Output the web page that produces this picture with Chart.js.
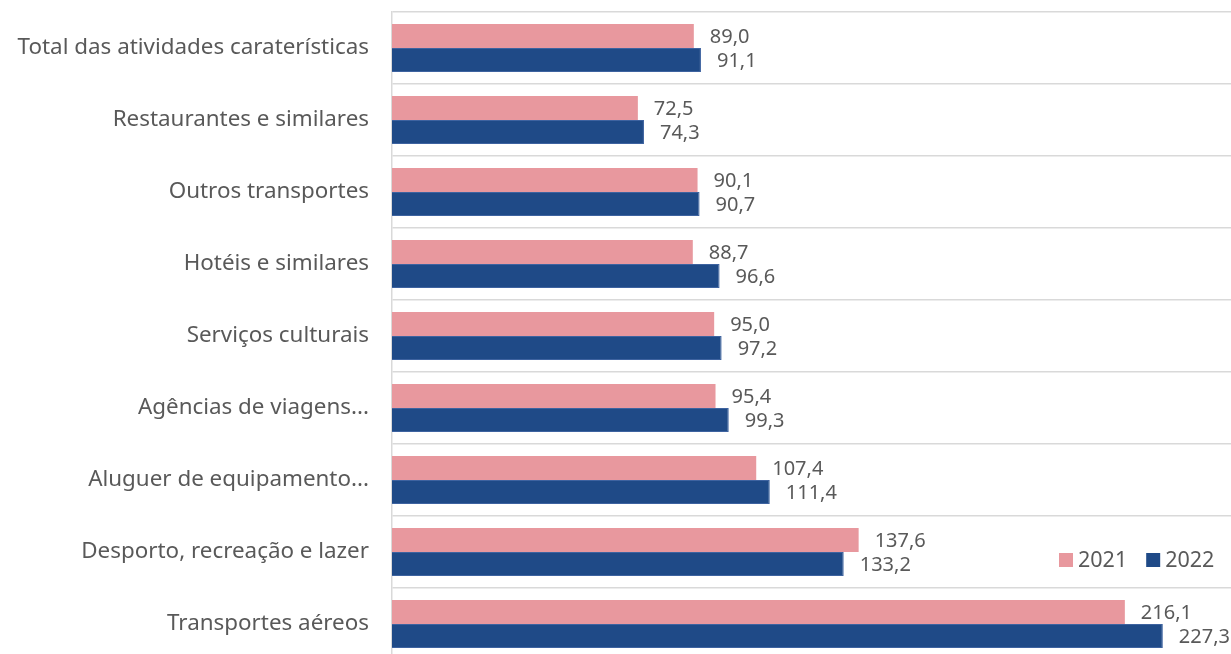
<!DOCTYPE html>
<html>
<head>
<meta charset="utf-8">
<script src="https://cdn.jsdelivr.net/npm/chart.js@4.4.1/dist/chart.umd.min.js"></script>
<style>
  html, body { margin: 0; padding: 0; background: #fff; overflow: hidden; }
  #wrap { width: 1231px; height: 654px; overflow: hidden; position: relative; }
  #box { width: 1231px; height: 660px; position: absolute; left: 0; top: 0; }
</style>
</head>
<body>
<div id="wrap"><div id="box"><canvas id="chart"></canvas></div></div>
<script>
const categories = [
    'Total das atividades caraterísticas',
    'Restaurantes e similares',
    'Outros transportes',
    'Hotéis e similares',
    'Serviços culturais',
    'Agências de viagens...',
    'Aluguer de equipamento...',
    'Desporto, recreação e lazer',
    'Transportes aéreos'
];
const values2021 = [89.0, 72.5, 90.1, 88.7, 95.0, 95.4, 107.4, 137.6, 216.1];
const values2022 = [91.1, 74.3, 90.7, 96.6, 97.2, 99.3, 111.4, 133.2, 227.3];
const seriesNames = ['2021', '2022'];

const pink = '#E8989E';
const blue = '#1F4A87';
const textColor = '#595959';
const fontFamily = '"Noto Sans", "Open Sans", sans-serif';

function fmt(v) {
    return v.toFixed(1).replace('.', ',');
}

// etiquetas de valor a la derecha de cada barra
const valueLabels = {
    id: 'valueLabels',
    afterDatasetsDraw(chart) {
        const ctx = chart.ctx;
        ctx.save();
        ctx.font = '20px ' + fontFamily;
        ctx.fillStyle = textColor;
        ctx.textAlign = 'left';
        ctx.textBaseline = 'middle';
        chart.data.datasets.forEach((ds, i) => {
            chart.getDatasetMeta(i).data.forEach((bar, j) => {
                ctx.fillText(fmt(ds.data[j]), bar.x + 16, bar.y + 1);
            });
        });
        ctx.restore();
    }
};

// leyenda dentro del área del gráfico
const innerLegend = {
    id: 'innerLegend',
    afterDraw(chart) {
        const ctx = chart.ctx;
        ctx.save();
        ctx.font = '21.5px ' + fontFamily;
        ctx.textBaseline = 'middle';
        let x = 1059;
        const y = 560;
        chart.data.datasets.forEach(ds => {
            ctx.fillStyle = ds.backgroundColor;
            ctx.fillRect(x, y - 7, 14, 14);
            ctx.fillStyle = textColor;
            ctx.fillText(ds.label, x + 19, y + 1);
            x += 19 + ctx.measureText(ds.label).width + 19;
        });
        ctx.restore();
    }
};

new Chart(document.getElementById('chart').getContext('2d'), {
    type: 'bar',
    data: {
        labels: categories,
        datasets: [{
            label: seriesNames[0],
            data: values2021,
            backgroundColor: pink,
            borderWidth: 0
        }, {
            label: seriesNames[1],
            data: values2022,
            backgroundColor: blue,
            borderColor: '#3E63A0',
            borderWidth: 1
        }]
    },
    options: {
        indexAxis: 'y',
        responsive: true,
        maintainAspectRatio: false,
        animation: false,
        layout: { padding: { top: 12, right: 0, bottom: 0, left: 0 } },
        datasets: {
            bar: { categoryPercentage: 48 / 72, barPercentage: 1.0 }
        },
        plugins: {
            legend: { display: false },
            tooltip: { enabled: false }
        },
        scales: {
            x: {
                display: false,
                min: 0,
                max: 247.4
            },
            y: {
                afterFit(scale) {
                    scale.width = 392;
                    scale.paddingTop = 0;
                    scale.paddingBottom = 0;
                },
                grid: {
                    color: '#D9D9D9',
                    lineWidth: 1.5,
                    drawTicks: false,
                    offset: true
                },
                border: { display: true, color: '#D9D9D9', width: 1.5 },
                ticks: {
                    color: textColor,
                    padding: 23,
                    font: { family: fontFamily, size: 22.4 }
                }
            }
        }
    },
    plugins: [valueLabels, innerLegend]
});
</script>
</body>
</html>
